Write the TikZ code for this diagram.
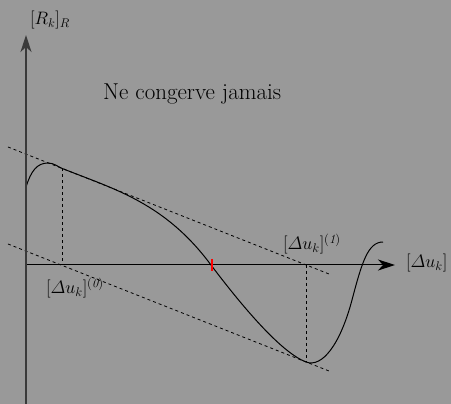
\RequirePackage{fix-cm}
\documentclass[tikz,border=0pt]{standalone}
\usepackage{fontspec}
\usetikzlibrary{arrows.meta}
\definecolor{bgc}{HTML}{999999}
\definecolor{axisc}{HTML}{3A3A3A}
\newcommand{\du}{\mathnormal{\Delta}u}
\begin{document}
\begin{tikzpicture}[x=1pt,y=-1pt,
  lbl/.style={inner sep=0pt,anchor=base west,font=\fontsize{18}{18}\selectfont},
  guide/.style={line width=0.8pt,dash pattern=on 3pt off 3pt,black},
  tip/.style={-{Stealth[length=17pt,width=11pt,inset=5pt]}}]
\fill[bgc] (0,0) rectangle (451,404);
\useasboundingbox (0,0) rectangle (451,404);
% coordinates
\coordinate (u0) at (8,147);
\coordinate (u1) at (329,274);
\coordinate (l0) at (8,244);
\coordinate (l1) at (329,371);
\coordinate (t0) at (62,168.4);
\coordinate (a0) at (62,265);
\coordinate (t1) at (306,362);
\coordinate (a1) at (306,265);
\coordinate (o) at (26,265);
\coordinate (xe) at (395,265);
\coordinate (yb) at (26,404);
\coordinate (ye) at (26,35);
\coordinate (r0) at (212,259);
\coordinate (r1) at (212,271);
% guide lines
\draw[guide] (u0) -- (u1);
\draw[guide] (l0) -- (l1);
\draw[guide] (t0) -- (a0);
\draw[guide] (a1) -- (t1);
% curve
\draw[line width=1pt] (26,187) .. controls (31,171) and (37,163) .. (48,163)
  .. controls (54,163) and (58,166.8) .. (t0)
  .. controls (115,189.4) and (165,203) .. (211,265)
  .. controls (245,310) and (282,352.8) .. (t1)
  .. controls (322,368) and (340,345) .. (352,300)
  .. controls (362,262) and (368,242) .. (383,242);
% axes
\draw[tip,line width=1pt,black] (o) -- (xe);
\draw[tip,line width=1.6pt,axisc] (yb) -- (ye);
% red tick
\draw[red,line width=2.5pt] (r0) -- (r1);
% labels
\node[lbl] (ry) at (30,25) {$[R_k]_{R}$};
\node[inner sep=0pt,anchor=base west,font=\fontsize{23}{23}\selectfont] (title) at (103,100) {Ne congerve jamais};
\node[lbl] (d0) at (46,294) {$[\du_k]^{\mathit{(0)}}$};
\node[lbl] (d1) at (283,250) {$[\du_k]^{\mathit{(1)}}$};
\node[lbl] (dx) at (406,268) {$[\du_k]$};
\end{tikzpicture}
\end{document}
